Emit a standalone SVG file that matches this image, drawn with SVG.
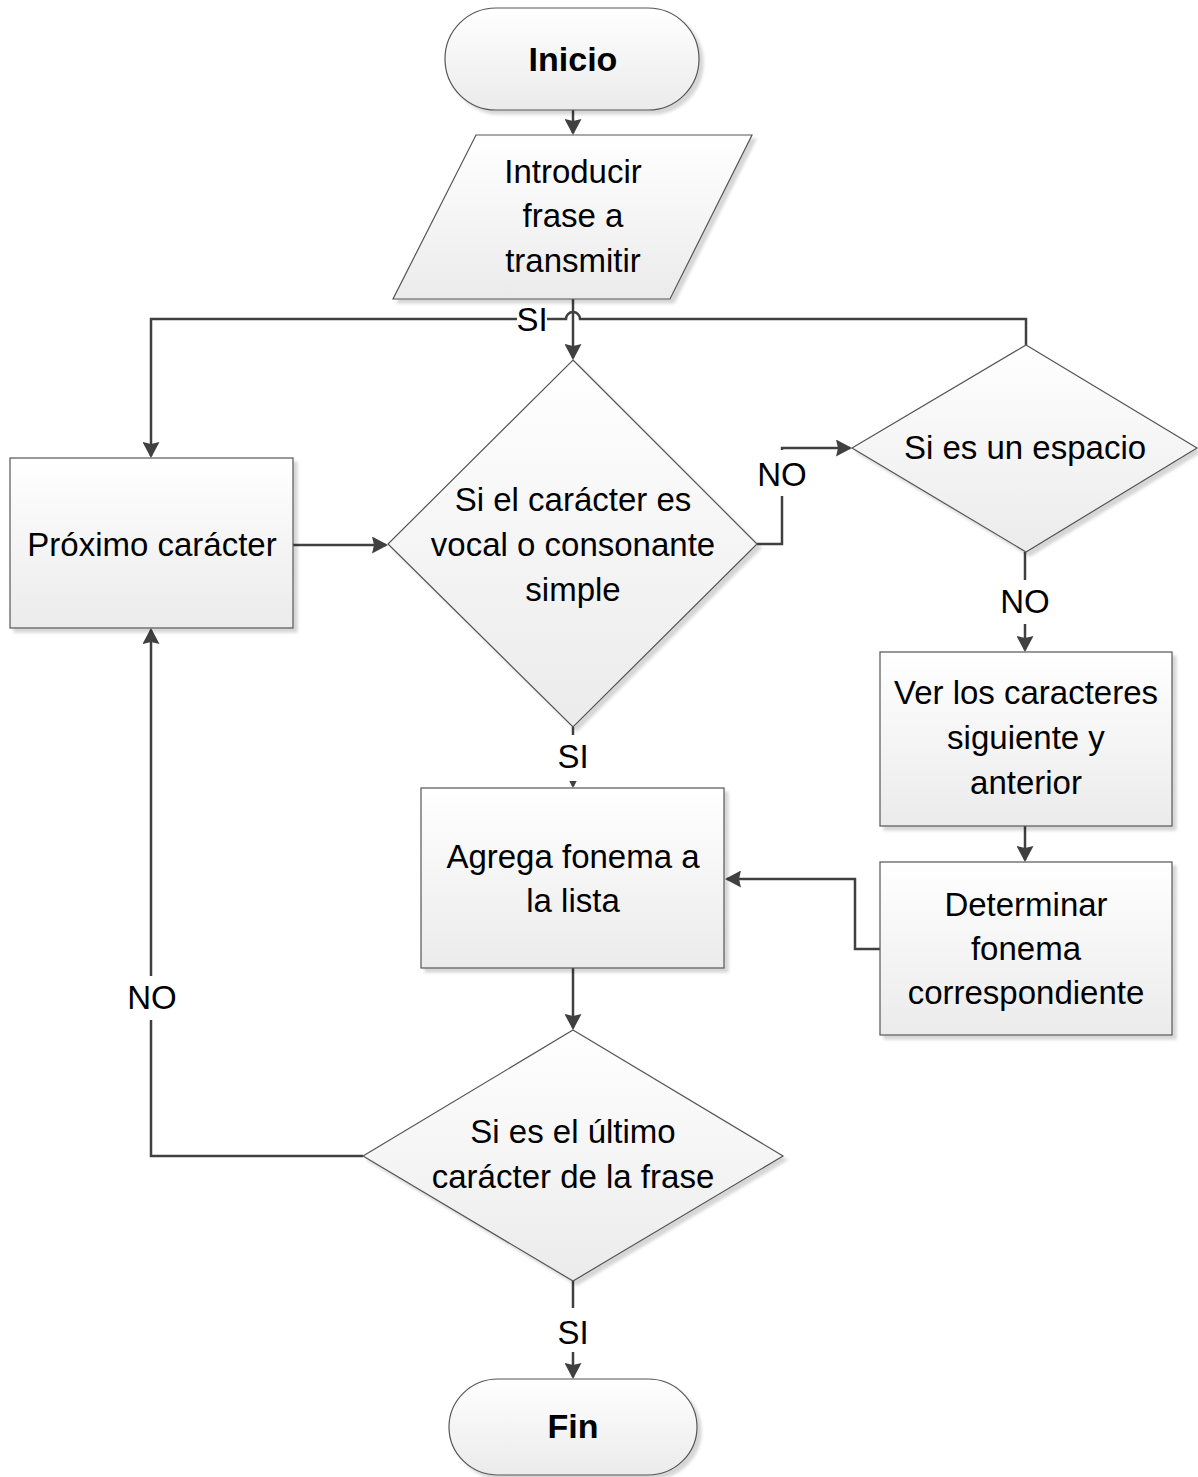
<svg xmlns="http://www.w3.org/2000/svg" width="1198" height="1477" viewBox="0 0 1198 1477">
<defs>
<linearGradient id="g" x1="0" y1="0" x2="0" y2="1">
<stop offset="0" stop-color="#ffffff"/>
<stop offset="1" stop-color="#ebebeb"/>
</linearGradient>
<filter id="sh" x="-10%" y="-10%" width="125%" height="125%">
<feDropShadow dx="4" dy="4" stdDeviation="1.5" flood-color="#000" flood-opacity="0.16"/>
</filter>
<marker id="ah" viewBox="0 0 16 17" refX="14" refY="8.5" markerWidth="16" markerHeight="17" orient="auto" markerUnits="userSpaceOnUse">
<path d="M0,0 L16,8.5 L0,17 L2,8.5 z" fill="#404040"/>
</marker>
<style>
.n{fill:url(#g);stroke:#555;stroke-width:1.2;filter:url(#sh)}
.t{font-family:"Liberation Sans",Arial,sans-serif;font-size:33px;fill:#000;text-anchor:middle}
.b{font-weight:bold;font-size:34px}
.c{fill:none;stroke:#404040;stroke-width:2.5}
.a{marker-end:url(#ah)}
.lb{fill:#fff}
</style>
</defs>
<rect width="1198" height="1477" fill="#fff"/>

<g id="connectors">
<path class="c a" d="M573,110 V133"/>
<path class="c a" d="M573,299 V358"/>
<path class="c a" d="M1026,345 V319 H580 A7,7 0 0 0 566,319 H151 V456"/>
<path class="c a" d="M293,545 H386"/>
<path class="c a" d="M757,544 H782 V448 H850"/>
<path class="c a" d="M1025,552 V650"/>
<path class="c a" d="M1025,826 V860"/>
<path class="c a" d="M880,949 H855 V879 H727"/>
<path class="c a" d="M573,727 V786"/>
<path class="c a" d="M573,968 V1028"/>
<path class="c a" d="M363,1156 H151 V630"/>
<path class="c a" d="M573,1281 V1377"/>
</g>

<g id="labels">
<rect class="lb" x="517" y="297" width="30" height="44"/>
<text class="t" x="532" y="331">SI</text>
<rect class="lb" x="757" y="450" width="50" height="46"/>
<text class="t" x="782" y="486">NO</text>
<rect class="lb" x="999" y="580" width="52" height="44"/>
<text class="t" x="1025" y="613">NO</text>
<rect class="lb" x="556" y="735" width="34" height="46"/>
<text class="t" x="573" y="768">SI</text>
<rect class="lb" x="126" y="976" width="52" height="44"/>
<text class="t" x="152" y="1009">NO</text>
<rect class="lb" x="556" y="1308" width="34" height="44"/>
<text class="t" x="573" y="1344">SI</text>
</g>

<g id="inicio">
<rect class="n" x="445" y="8" width="254" height="102" rx="51" ry="51"/>
<text class="t b" x="573" y="71">Inicio</text>
</g>

<g id="introducir">
<polygon class="n" points="476,135 752,135 670,299 393,299"/>
<text class="t" x="573" y="183">Introducir</text>
<text class="t" x="573" y="227">frase a</text>
<text class="t" x="573" y="272">transmitir</text>
</g>

<g id="proximo">
<rect class="n" x="10" y="458" width="283" height="170"/>
<text class="t" x="152" y="556">Próximo carácter</text>
</g>

<g id="decision-vocal">
<polygon class="n" points="573,360 757,544 573,727 388,544"/>
<text class="t" x="573" y="511">Si el carácter es</text>
<text class="t" x="573" y="556">vocal o consonante</text>
<text class="t" x="573" y="601">simple</text>
</g>

<g id="decision-espacio">
<polygon class="n" points="1026,345 1197,448 1026,552 852,448"/>
<text class="t" x="1025" y="459">Si es un espacio</text>
</g>

<g id="ver">
<rect class="n" x="880" y="652" width="292" height="174"/>
<text class="t" x="1026" y="704">Ver los caracteres</text>
<text class="t" x="1026" y="749">siguiente y</text>
<text class="t" x="1026" y="794">anterior</text>
</g>

<g id="determinar">
<rect class="n" x="880" y="862" width="292" height="173"/>
<text class="t" x="1026" y="916">Determinar</text>
<text class="t" x="1026" y="960">fonema</text>
<text class="t" x="1026" y="1004">correspondiente</text>
</g>

<g id="agrega">
<rect class="n" x="421" y="788" width="303" height="180"/>
<text class="t" x="573" y="868">Agrega fonema a</text>
<text class="t" x="573" y="912">la lista</text>
</g>

<g id="decision-ultimo">
<polygon class="n" points="573,1030 783,1156 573,1281 363,1156"/>
<text class="t" x="573" y="1143">Si es el último</text>
<text class="t" x="573" y="1188">carácter de la frase</text>
</g>

<g id="fin">
<rect class="n" x="449" y="1379" width="248" height="96" rx="49" ry="48"/>
<text class="t b" x="573" y="1438">Fin</text>
</g>
</svg>
